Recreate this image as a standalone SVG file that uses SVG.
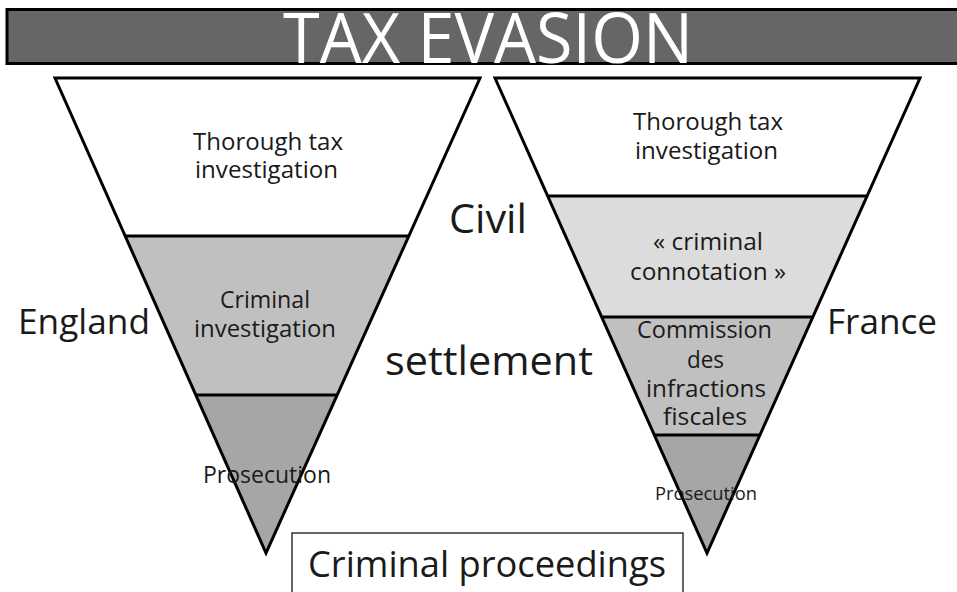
<svg xmlns="http://www.w3.org/2000/svg" width="957" height="592" viewBox="0 0 957 592">
<style>
  .t { font-family: "Open Sans", "Liberation Sans", sans-serif; fill: #1a1a1a; text-anchor: middle; }
  .s24 { font-size: 24px; }
  .s35 { font-size: 35px; }
  .s41 { font-size: 41px; }
  .edge { fill: none; stroke: #000; stroke-width: 3; stroke-linejoin: miter; }
  .div { stroke: #000; stroke-width: 3; }
  .w { fill: #ffffff; }
  .g1 { fill: #dcdcdc; }
  .g2 { fill: #c0c0c0; }
  .g3 { fill: #a6a6a6; }
</style>
<rect width="957" height="592" fill="#ffffff"/>

<g id="title">
  <rect x="7" y="9.5" width="960" height="54" fill="#666666" stroke="#000" stroke-width="3"/>
  <text x="488" y="63" font-family="Open Sans, Liberation Sans, sans-serif" font-weight="400" font-size="70" fill="#ffffff" text-anchor="middle" textLength="410" lengthAdjust="spacingAndGlyphs">TAX EVASION</text>
</g>

<g id="england-funnel">
  <polygon class="w" points="55,78 480,78 408.8,236 125.2,236"/>
  <polygon class="g2" points="125.2,236 408.8,236 337.2,395 195.8,395"/>
  <polygon class="g3" points="195.8,395 337.2,395 266,553"/>
  <line class="div" x1="125.2" y1="236" x2="408.8" y2="236"/>
  <line class="div" x1="195.8" y1="395" x2="337.2" y2="395"/>
  <polygon class="edge" points="55,78 480,78 266,553"/>
  <text class="t s24" x="268" y="150" textLength="150" lengthAdjust="spacingAndGlyphs">Thorough tax</text>
  <text class="t s24" x="266.5" y="178" textLength="143" lengthAdjust="spacingAndGlyphs">investigation</text>
  <text class="t s24" x="265" y="308" textLength="90" lengthAdjust="spacingAndGlyphs">Criminal</text>
  <text class="t s24" x="265" y="337" textLength="142" lengthAdjust="spacingAndGlyphs">investigation</text>
  <text class="t" x="267" y="483" font-size="23" textLength="128" lengthAdjust="spacingAndGlyphs">Prosecution</text>
</g>

<g id="france-funnel">
  <polygon class="w" points="495,78 920,78 867.1,196 547.7,196"/>
  <polygon class="g1" points="547.7,196 867.1,196 812.8,317 601.7,317"/>
  <polygon class="g2" points="601.7,317 812.8,317 759.9,435 654.3,435"/>
  <polygon class="g3" points="654.3,435 759.9,435 707,553"/>
  <line class="div" x1="547.7" y1="196" x2="867.1" y2="196"/>
  <line class="div" x1="601.7" y1="317" x2="812.8" y2="317"/>
  <line class="div" x1="654.3" y1="435" x2="759.9" y2="435"/>
  <polygon class="edge" points="495,78 920,78 707,553"/>
  <text class="t s24" x="708" y="130" textLength="150" lengthAdjust="spacingAndGlyphs">Thorough tax</text>
  <text class="t s24" x="706.5" y="159" textLength="143" lengthAdjust="spacingAndGlyphs">investigation</text>
  <text class="t s24" x="708" y="250" textLength="110" lengthAdjust="spacingAndGlyphs">« criminal</text>
  <text class="t s24" x="708" y="280" textLength="156" lengthAdjust="spacingAndGlyphs">connotation »</text>
  <text class="t s24" x="704.5" y="338" textLength="135" lengthAdjust="spacingAndGlyphs">Commission</text>
  <text class="t s24" x="705.5" y="368" textLength="37" lengthAdjust="spacingAndGlyphs">des</text>
  <text class="t s24" x="706" y="397" textLength="120" lengthAdjust="spacingAndGlyphs">infractions</text>
  <text class="t s24" x="705" y="425" textLength="84" lengthAdjust="spacingAndGlyphs">fiscales</text>
  <text class="t" x="706" y="500" font-size="18" textLength="102" lengthAdjust="spacingAndGlyphs">Prosecution</text>
</g>

<g id="england-label">
  <text class="t s35" x="84" y="334" textLength="132" lengthAdjust="spacingAndGlyphs">England</text>
</g>
<g id="france-label">
  <text class="t s35" x="882" y="334" textLength="110" lengthAdjust="spacingAndGlyphs">France</text>
</g>
<g id="civil-settlement">
  <text class="t s41" x="488" y="233" textLength="78" lengthAdjust="spacingAndGlyphs">Civil</text>
  <text class="t s41" x="489" y="375" textLength="208" lengthAdjust="spacingAndGlyphs">settlement</text>
</g>
<g id="criminal-proceedings">
  <rect x="292" y="533" width="391" height="70" fill="#ffffff" stroke="#333333" stroke-width="1.5"/>
  <text class="t" x="487" y="577" font-size="36" textLength="358" lengthAdjust="spacingAndGlyphs">Criminal proceedings</text>
</g>
<g id="connectors"/>
</svg>
